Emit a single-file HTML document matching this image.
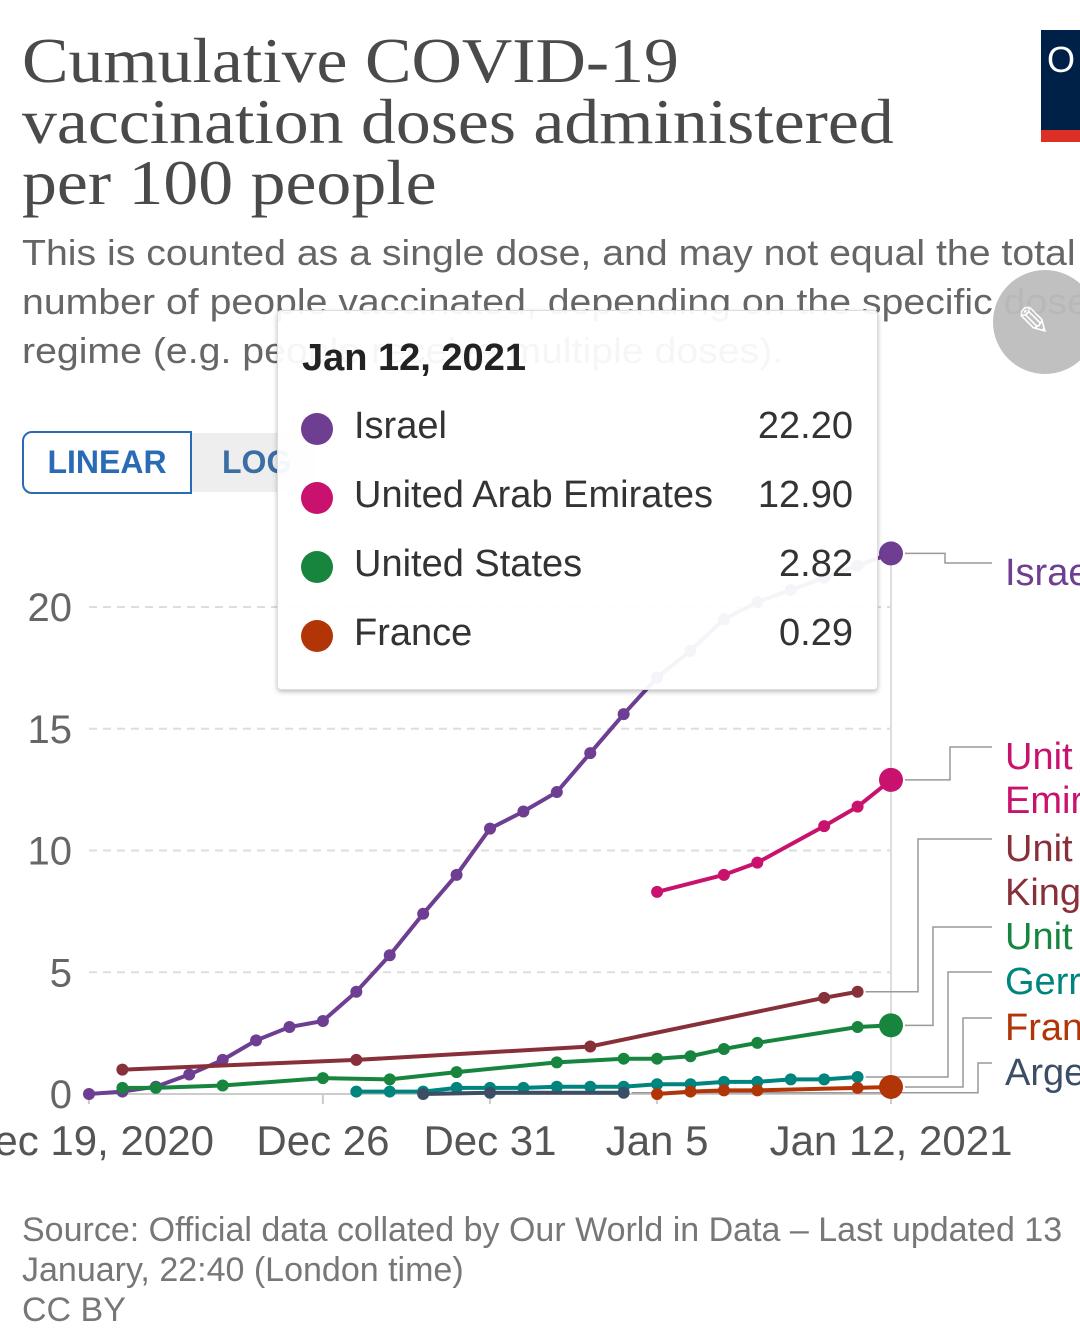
<!DOCTYPE html>
<html><head><meta charset="utf-8"><style>
body{margin:0;width:1080px;height:1331px;overflow:hidden;background:#fff;font-family:"Liberation Sans",sans-serif;position:relative}
.a{position:absolute;white-space:nowrap}
</style></head><body>
<div class="a" style="left:22px;top:30px;font-family:'Liberation Serif',serif;font-size:64px;line-height:61px;color:#4a4a4a;transform:scaleX(1.09);transform-origin:0 0">Cumulative COVID-19<br>vaccination doses administered<br>per 100 people</div>
<div class="a" style="left:22px;top:228px;font-size:36px;line-height:49px;color:#666;transform:scaleX(1.09);transform-origin:0 0">This is counted as a single dose, and may not equal the total<br>number of people vaccinated, depending on the specific dose<br>regime (e.g. people receive multiple doses).</div>
<div class="a" style="left:1041px;top:30px;width:39px;height:100px;background:#002147;border-bottom:12px solid #dc3027;color:#fff;font-size:36px;line-height:60px;padding-left:6px;box-sizing:content-box">O</div>
<div class="a" style="left:993px;top:270px;width:104px;height:104px;border-radius:50%;background:#bdbdbd;opacity:.95;color:#fff;font-size:40px;line-height:104px;text-indent:24px">✎</div>
<div class="a" style="left:22px;top:431px;width:166px;height:59px;border:2px solid #2a6bb5;border-radius:10px 0 0 10px;color:#2a6bb5;font-weight:bold;font-size:32px;line-height:59px;text-align:center">LINEAR</div>
<div class="a" style="left:192px;top:433px;width:123px;height:59px;background:#eee;border-radius:0 10px 10px 0;color:#3b6ea5;font-weight:bold;font-size:32px;line-height:59px;padding-left:30px;box-sizing:border-box">LOG</div>
<svg id="chart" class="a" style="left:0;top:0" width="1080" height="1331"></svg>
<div class="a" style="left:277px;top:310px;width:599px;height:378px;background:rgba(255,255,255,0.94);border:1px solid #ddd;border-radius:4px;box-shadow:0 2px 5px rgba(0,0,0,.25)">
<div class="a" style="left:24px;top:26px;font-size:38px;font-weight:bold;color:#222">Jan 12, 2021</div>
<div id="tt"></div>
</div>
<div class="a" style="left:22px;top:1210px;font-size:34px;line-height:40px;color:#777">Source: Official data collated by Our World in Data – Last updated 13<br>January, 22:40 (London time)<br>CC BY</div>
<script>
const NS='http://www.w3.org/2000/svg';
const yTicks=[0,5,10,15,20];
const xTickDays=[0,7,12,17,24];
const xTickLabels=['Dec 19, 2020','Dec 26','Dec 31','Jan 5','Jan 12, 2021'];
const israelDays=[0,1,2,3,4,5,6,7,8,9,10,11,12,13,14,15,16,17,18,19,20,21,22,23,24];
const israelVals=[0,0.1,0.3,0.8,1.4,2.2,2.75,3.0,4.2,5.7,7.4,9.0,10.9,11.6,12.4,14.0,15.6,17.1,18.2,19.5,20.2,20.7,21.2,21.7,22.2];
const uaeDays=[17,19,20,22,23,24];
const uaeVals=[8.3,9.0,9.5,11.0,11.8,12.9];
const ukDays=[1,8,15,22,23];
const ukVals=[1.0,1.4,1.95,3.95,4.2];
const usDays=[1,2,4,7,9,11,14,16,17,18,19,20,23,24];
const usVals=[0.25,0.25,0.35,0.65,0.6,0.9,1.3,1.45,1.45,1.55,1.85,2.1,2.75,2.82];
const deDays=[8,9,10,11,12,13,14,15,16,17,18,19,20,21,22,23];
const deVals=[0.1,0.1,0.1,0.25,0.25,0.25,0.3,0.3,0.3,0.4,0.4,0.5,0.5,0.6,0.6,0.7];
const arDays=[10,12,16];
const arVals=[0.0,0.05,0.05];
const frDays=[17,18,19,20,23,24];
const frVals=[0.0,0.1,0.15,0.15,0.25,0.29];
const ttNames=['Israel','United Arab Emirates','United States','France'];
const ttVals=['22.20','12.90','2.82','0.29'];
const ttColors=['#6d3e91','#c8126e','#18853f','#b13507'];
const X=d=>89+d*(891-89)/24;
const Y=v=>1094-v*(1094-607)/20;
const svg=document.getElementById('chart');
function mk(t,a){const e=document.createElementNS(NS,t);for(const k in a)e.setAttribute(k,a[k]);svg.appendChild(e);return e;}
yTicks.forEach(v=>{
 if(v>0){const l=mk('line',{x1:89,x2:891,y1:Y(v),y2:Y(v),stroke:'#ddd','stroke-width':2,'stroke-dasharray':'8,6'});
 
 }
 const t=mk('text',{x:72,y:Y(v)+14,'text-anchor':'end','font-size':40,fill:'#666'});t.textContent=v;
 
 
});
const ax=mk('line',{x1:89,x2:891,y1:1094,y2:1094,stroke:'#ccc','stroke-width':2});


const hl=mk('line',{x1:891,x2:891,y1:560,y2:1104,stroke:'#ddd','stroke-width':2});


xTickDays.forEach((d,i)=>{
 mk('line',{x1:X(d),x2:X(d),y1:1094,y2:1104,stroke:'#ccc','stroke-width':2});
 const t=mk('text',{x:X(d),y:1155,'text-anchor':'middle','font-size':42,fill:'#555'});t.textContent=xTickLabels[i];
 
 
});
const series=[
 ['israel',israelDays,israelVals,'#6d3e91',['Israe'],573,true],
 ['uae',uaeDays,uaeVals,'#c8126e',['Unit','Emir'],757,true],
 ['uk',ukDays,ukVals,'#883039',['Unit','King'],849,false],
 ['us',usDays,usVals,'#18853f',['Unit'],937,true],
 ['germany',deDays,deVals,'#00847e',['Gerr'],982,false],
 ['argentina',arDays,arVals,'#3c4e66',['Arge'],1073,false],
 ['france',frDays,frVals,'#b13507',['Fran'],1028,true]];
const elbow={israel:945,uae:950,uk:918,us:933,germany:948,france:963,argentina:978};
series.forEach(([n,ds,vs,c,lab,ly,big])=>{
 const p=mk('polyline',{points:ds.map((d,i)=>X(d)+','+Y(vs[i])).join(' '),fill:'none',stroke:c,'stroke-width':4});
 
 
 ds.forEach((d,i)=>{const last=big&&i===ds.length-1;const m=mk('circle',{cx:X(d),cy:Y(vs[i]),r:last?12:6,fill:c});
  
  });
 const lx=X(ds[ds.length-1])+(big?14:8), y0=Y(vs[vs.length-1]), ex=elbow[n], ty=ly-10;
 const cl=mk('polyline',{points:`${lx},${y0} ${ex},${y0} ${ex},${ty} 992,${ty}`,fill:'none',stroke:'#999','stroke-width':1.5});
 
 
 lab.forEach((s,k)=>{const t=mk('text',{x:1005,y:ly+k*44+12,'font-size':38,fill:c});t.textContent=s;
  
  });
});
const tt=document.getElementById('tt');
ttNames.forEach((n,i)=>{
 const y=98+i*69;
 const r=document.createElement('div');
 
 
 r.className='a';r.style.cssText=`left:0;top:${y}px;width:599px;height:50px;font-size:38px;color:#333`;
 r.innerHTML=`<span style="position:absolute;left:23px;top:4px;width:32px;height:32px;border-radius:50%;background:${ttColors[i]}"></span><span style="position:absolute;left:76px;top:-4px">${n}</span><span style="position:absolute;right:24px;top:-4px">${ttVals[i]}</span>`;
 tt.appendChild(r);
});
</script>
</body></html>
